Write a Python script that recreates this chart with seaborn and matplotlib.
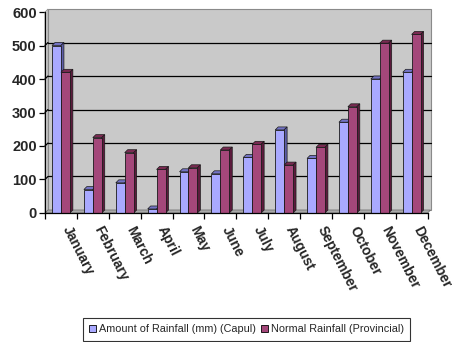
import matplotlib
matplotlib.use("Agg")
import matplotlib.pyplot as plt
from matplotlib.patches import Polygon, Patch, Rectangle
from matplotlib.transforms import ScaledTranslation
import numpy as np
import pandas as pd
import seaborn as sns

months = ["January", "February", "March", "April", "May", "June", "July",
          "August", "September", "October", "November", "December"]
capul = [500, 70, 90, 12, 123, 117, 166, 248, 163, 271, 400, 420]
provincial = [420, 225, 180, 130, 135, 188, 205, 143, 196, 317, 507, 533]
series_names = ["Amount of Rainfall (mm) (Capul)", "Normal Rainfall (Provincial)"]
yticks = [0, 100, 200, 300, 400, 500, 600]

df = pd.DataFrame({
    "Month": months * 2,
    "Rainfall": capul + provincial,
    "Series": [series_names[0]] * len(months) + [series_names[1]] * len(months),
})

front = ["#A9A9FF", "#A4477A"]
top = ["#7373C4", "#7A2A52"]
side = ["#5E5EA8", "#5C1A3C"]
wall = "#C9C9C9"

sns.set_style("white")
plt.rcParams["font.family"] = ["Liberation Sans", "DejaVu Sans"]

fig = plt.figure(figsize=(4.54, 3.42), dpi=100)
ax = fig.add_axes([0.0991, 0.3772, 0.8427, 0.5877])
ax.set_facecolor("none")

sns.barplot(data=df, x="Month", y="Rainfall", hue="Series", palette=front,
            width=0.56, saturation=1, edgecolor="#1a1a1a", linewidth=0.6,
            legend=False, ax=ax, zorder=3)
bar_patches = [p for p in ax.patches if isinstance(p, Rectangle) and p.get_height() > 0]
bar_patches.sort(key=lambda p: p.get_x())

ax.set_xlim(-0.5, len(months) - 0.5)
ax.set_ylim(0, 600)

# depth of the 3-D look, in data units (about 3 px each way)
dx = 3 / (ax.get_position().width * 454 / len(months))
dy = 3 / (ax.get_position().height * 342 / 600)
x0, x1 = -0.5, len(months) - 0.5

# back wall, side wall and floor
ax.add_patch(Polygon([(x0 + dx, dy), (x1 + dx, dy), (x1 + dx, 600 + dy), (x0 + dx, 600 + dy)],
                     closed=True, facecolor=wall, edgecolor="#8a8a8a", linewidth=0.8,
                     zorder=0.5, clip_on=False))
ax.add_patch(Polygon([(x0, 0), (x0 + dx, dy), (x0 + dx, 600 + dy), (x0, 600)],
                     closed=True, facecolor="#d6d6d6", edgecolor="#8a8a8a", linewidth=0.5,
                     zorder=0.6, clip_on=False))
ax.add_patch(Polygon([(x0, 0), (x1, 0), (x1 + dx, dy), (x0 + dx, dy)],
                     closed=True, facecolor="#a8a8a8", edgecolor="#6a6a6a", linewidth=0.5,
                     zorder=0.7, clip_on=False))

for v in yticks[1:-1]:
    ax.plot([x0 + dx, x1 + dx], [v + dy, v + dy], color="black", lw=0.9,
            zorder=1, clip_on=False)
    ax.plot([x0, x0 + dx], [v, v + dy], color="black", lw=0.9, zorder=1, clip_on=False)

# top and side faces for each bar
for i, p in enumerate(bar_patches):
    k = 0 if p.get_facecolor()[2] > 0.8 else 1
    bx, bw, bh = p.get_x(), p.get_width(), p.get_height()
    z = 3 + i * 0.01
    p.set_zorder(z + 0.005)
    ax.add_patch(Polygon([(bx, bh), (bx + dx, bh + dy), (bx + bw + dx, bh + dy), (bx + bw, bh)],
                         closed=True, facecolor=top[k], edgecolor="#1a1a1a", linewidth=0.5,
                         zorder=z, clip_on=False))
    ax.add_patch(Polygon([(bx + bw, 0), (bx + bw + dx, dy), (bx + bw + dx, bh + dy), (bx + bw, bh)],
                         closed=True, facecolor=side[k], edgecolor="#1a1a1a", linewidth=0.5,
                         zorder=z, clip_on=False))

for s in ["top", "right"]:
    ax.spines[s].set_visible(False)
for s in ["left", "bottom"]:
    ax.spines[s].set_color("black")
    ax.spines[s].set_linewidth(0.9)
    ax.spines[s].set_zorder(4)

ax.set_yticks(yticks)
ax.set_yticklabels([str(v) for v in yticks], fontsize=10.5, fontweight="bold")
ax.tick_params(axis="y", direction="out", length=4, width=0.9, color="black", pad=2, left=True)

ax.set_xticks(np.arange(-0.5, len(months), 1.0), minor=True)
ax.tick_params(axis="x", which="minor", direction="out", length=4, width=0.9,
               color="black", bottom=True)
ax.set_xticks(range(len(months)))
ax.tick_params(axis="x", which="major", length=0, pad=8)
ax.set_xticklabels(months, fontsize=10, fontweight="bold", rotation=-63,
                   ha="left", va="top", rotation_mode="anchor")
shift = ScaledTranslation(11 / 100, 0, fig.dpi_scale_trans)
for tick in ax.xaxis.get_major_ticks():
    tick.label1.set_transform(tick.label1.get_transform() + shift)
ax.set_xlabel("")
ax.set_ylabel("")

handles = [Patch(facecolor=front[0], edgecolor="black", linewidth=0.6),
           Patch(facecolor=front[1], edgecolor="black", linewidth=0.6)]
leg = fig.legend(handles, series_names, loc="lower center", bbox_to_anchor=(0.543, 0.0),
                 ncol=2, fontsize=7.8, frameon=True, fancybox=False, edgecolor="black",
                 handlelength=0.6, handleheight=0.6, handletextpad=0.3, columnspacing=0.5,
                 borderpad=0.6, borderaxespad=0.1)
leg.get_frame().set_linewidth(0.8)

fig.savefig("out.png", dpi=100, facecolor="white")
